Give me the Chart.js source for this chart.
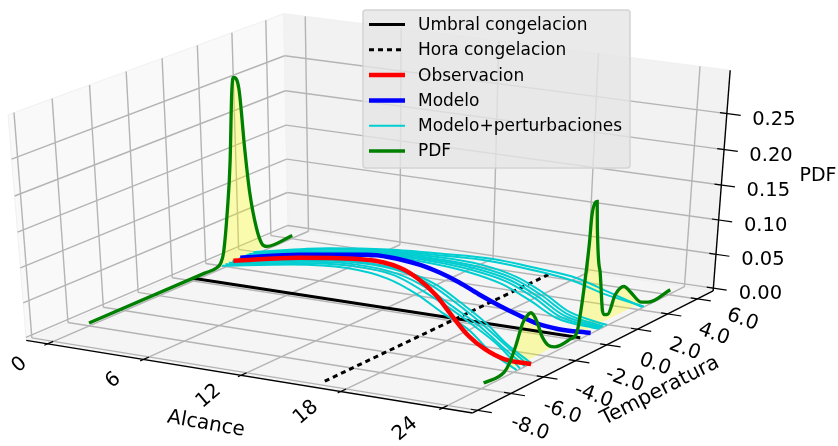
<!DOCTYPE html>
<html>
<head>
<meta charset="utf-8">
<title>Alcance / Temperatura / PDF</title>
<script src="https://cdn.jsdelivr.net/npm/chart.js@4"></script>
<style>
    body { margin: 0; background: #fff; }
    canvas { display: block; }
</style>
</head>
<body>
<canvas id="chart" width="838" height="446"></canvas>
<script>
// tick values and labels
const alcanceTicks = [0, 6, 12, 18, 24];
const tempTicks = [-8, -6, -4, -2, 0, 2, 4, 6];
const tempLabels = ['-8.0', '-6.0', '-4.0', '-2.0', '0.0', '2.0', '4.0', '6.0'];
const pdfTicks = [0, 0.05, 0.1, 0.15, 0.2, 0.25];
const pdfLabels = ['0.00', '0.05', '0.10', '0.15', '0.20', '0.25'];

// forecast lines, temperature at each lead time
const obsAlcance = [0, 2.85, 6.31, 8.72, 10.92, 13.34, 16.03, 18.71, 20.8, 22.62, 24.3];
const obsTemp = [2.42, 3.78, 4.64, 4.34, 3.4, 2.04, 0.29, -1.42, -2.51, -3.18, -3.25];
const modelAlcance = [0, 2.54, 5.79, 9.37, 11.18, 13.14, 15.25, 17.27, 19.15, 20.92, 22.3, 24.2];
const modelTemp = [2.84, 4.1, 5.16, 4.96, 4.44, 3.72, 2.81, 2.0, 1.31, 0.72, 0.53, 0.62];

const memberAlcance = [0, 3.18, 6.26, 9.32, 12.35, 15.35, 18.32, 21.25, 24.2];
const memberTemps = [
    [3.64, 5.26, 6.08, 6.47, 6.71, 6.43, 6.0, 5.02, 4.0],
    [3.38, 5.05, 5.93, 6.26, 6.45, 6.17, 5.68, 4.75, 4.1],
    [3.28, 4.83, 5.77, 6.05, 5.93, 5.17, 3.88, 2.4, 1.66],
    [3.08, 4.72, 5.61, 5.85, 5.67, 4.96, 3.67, 2.2, 1.45],
    [2.98, 4.62, 5.45, 5.69, 5.45, 4.74, 3.46, 1.99, 1.35],
    [3.18, 4.51, 5.35, 5.53, 5.24, 4.53, 3.25, 1.78, 1.24],
    [2.76, 4.41, 5.24, 5.32, 4.98, 4.21, 2.94, 1.58, 1.14],
    [2.55, 3.67, 4.29, 4.05, 3.09, 1.62, 0.08, -1.65, -3.16],
    [2.35, 3.57, 4.19, 3.94, 2.88, 1.42, -0.12, -1.75, -3.36],
    [2.15, 3.36, 3.97, 3.64, 2.56, 1.11, -0.33, -1.95, -3.55],
    [1.94, 3.16, 3.76, 3.44, 2.25, 0.91, -0.53, -2.05, -3.84],
    [1.74, 2.95, 3.46, 3.0, 1.84, 0.39, -0.93, -2.65, -4.04]
];

// threshold and freezing hour
const umbralAlcance = [0, 24.15];
const umbralTemp = [0, 0];
const horaAlcance = [16.6, 16.6];
const horaTemp = [-7.88, 5.92];

// the two pdf slices
const pdfStartAlcance = 0;
const pdfStartTemp = [-6, 0.7, 1.4, 1.67, 1.86, 2.16, 2.42, 2.64, 2.78, 3.06, 3.3, 3.52, 3.87, 4.18, 4.47, 6.06];
const pdfStartVal = [0, 0, 0, 0.005, 0.019, 0.077, 0.147, 0.242, 0.262, 0.244, 0.156, 0.091, 0.034, 0.007, 0, 0];
const pdfEndAlcance = 24;
const pdfEndTemp = [-5.85, -4.6, -4.3, -3.92, -3.55, -3.26, -3.06, -2.71, -2.31, -1.8, -1.47, -0.5, -0.07, 0.1, 0.3, 0.47, 0.55, 0.84, 0.93, 1.25, 1.55, 1.7, 1.9, 2.34, 2.9, 3.32, 4.15, 4.6, 6.09];
const pdfEndVal = [0.002, 0.003, 0.012, 0.034, 0.061, 0.069, 0.07, 0.056, 0.028, 0.008, 0.003, 0.003, 0.008, 0.032, 0.078, 0.13, 0.169, 0.184, 0.148, 0.082, 0.021, 0.014, 0.012, 0.036, 0.042, 0.03, 0.005, 0, 0.002];

// axes box -> normalised cube, same view as the original 3d plot (elev 30, azim -60)
const tx = a => 0.05 + a * 0.885 / 24;
const ty = t => 0.02 + (t + 8) * 0.065;
const tz = p => 0.0136 + p * 3.19;

function cube(x, y, z) {
    const dx = x - 0.5, dy = y - 0.5, dz = z - 0.5;
    const u = 0.866 * dx + 0.5 * dy;
    const v = -0.25 * dx + 0.433 * dy + 0.866 * dz;
    const n = 0.433 * dx - 0.75 * dy + 0.5 * dz;
    return { x: 375 + 5153 * u / (10 - n), y: 206.5 - 2575 * v / (10 - n) };
}
const project = (a, t, p) => cube(tx(a), ty(t), tz(p));

const curve = (alc, temp) => alc.map((a, i) => project(a, temp[i], 0));
const slice = (a, temp, val) => temp.map((t, i) => project(a, t, val[i]));
const shade = (a, temp, val, lo, hi) => temp
    .map((t, i) => [t, val[i]])
    .filter(p => p[0] >= lo && p[0] <= hi)
    .map(p => project(a, p[0], p[1]));

const datasets = [
    { label: 'Umbral congelacion', data: curve(umbralAlcance, umbralTemp), borderColor: '#000', borderWidth: 3, order: 5 },
    { label: 'Hora congelacion', data: curve(horaAlcance, horaTemp), borderColor: '#000', borderWidth: 3, borderDash: [5, 4], order: 4 },
    { label: 'Observacion', data: curve(obsAlcance, obsTemp), borderColor: '#ff0000', borderWidth: 4.5, cubicInterpolationMode: 'monotone', order: 1 },
    { label: 'Modelo', data: curve(modelAlcance, modelTemp), borderColor: '#0000ff', borderWidth: 4.5, cubicInterpolationMode: 'monotone', order: 2 }
];
memberTemps.forEach((temps, i) => {
    datasets.push({
        label: i === 0 ? 'Modelo+perturbaciones' : '',
        data: curve(memberAlcance, temps),
        borderColor: '#00ced1',
        borderWidth: 2,
        cubicInterpolationMode: 'monotone',
        order: 3
    });
});
datasets.push({ label: 'PDF', data: slice(pdfStartAlcance, pdfStartTemp, pdfStartVal), borderColor: '#008000', borderWidth: 3.3, cubicInterpolationMode: 'monotone', order: 0 });
datasets.push({ label: '', data: slice(pdfEndAlcance, pdfEndTemp, pdfEndVal), borderColor: '#008000', borderWidth: 3.3, cubicInterpolationMode: 'monotone', order: 0 });
datasets.push({ label: '', data: shade(pdfStartAlcance, pdfStartTemp, pdfStartVal, 1.3, 4.5), borderWidth: 0, backgroundColor: 'rgba(255,255,0,0.3)', fill: 'shape', order: 6 });
datasets.push({ label: '', data: shade(pdfEndAlcance, pdfEndTemp, pdfEndVal, -4.65, 4.2), borderWidth: 0, backgroundColor: 'rgba(255,255,0,0.3)', fill: 'shape', order: 6 });

const FONT = '"DejaVu Sans"';

const box3d = {
    id: 'box3d',
    beforeDatasetsDraw(chart) {
        const { ctx, scales } = chart;
        const sx = p => scales.x.getPixelForValue(p.x);
        const sy = p => scales.y.getPixelForValue(p.y);

        const pane = (pts, color) => {
            ctx.beginPath();
            pts.forEach((p, i) => {
                const q = cube(p[0], p[1], p[2]);
                if (i === 0) ctx.moveTo(sx(q), sy(q)); else ctx.lineTo(sx(q), sy(q));
            });
            ctx.closePath();
            ctx.fillStyle = color;
            ctx.fill();
            ctx.strokeStyle = '#f0f0f0';
            ctx.lineWidth = 1;
            ctx.stroke();
        };
        const seg = (a, b, color, width) => {
            ctx.beginPath();
            ctx.moveTo(sx(a), sy(a));
            ctx.lineTo(sx(b), sy(b));
            ctx.strokeStyle = color;
            ctx.lineWidth = width;
            ctx.stroke();
        };

        ctx.save();
        pane([[0, 0, 0], [0, 1, 0], [0, 1, 1], [0, 0, 1]], '#f9f9f9');
        pane([[0, 1, 0], [1, 1, 0], [1, 1, 1], [0, 1, 1]], '#f2f2f2');
        pane([[0, 0, 0], [1, 0, 0], [1, 1, 0], [0, 1, 0]], '#f5f5f5');

        const grid = '#b4b4b4';
        alcanceTicks.forEach(a => {
            seg(cube(tx(a), 0, 0), cube(tx(a), 1, 0), grid, 1.4);
            seg(cube(tx(a), 1, 0), cube(tx(a), 1, 1), grid, 1.4);
        });
        tempTicks.forEach(t => {
            seg(cube(1, ty(t), 0), cube(0, ty(t), 0), grid, 1.4);
            seg(cube(0, ty(t), 0), cube(0, ty(t), 1), grid, 1.4);
        });
        pdfTicks.forEach(p => {
            seg(cube(0, 0, tz(p)), cube(0, 1, tz(p)), grid, 1.4);
            seg(cube(0, 1, tz(p)), cube(1, 1, tz(p)), grid, 1.4);
        });

        // axis lines and tick marks
        seg(cube(0, 0, 0), cube(1, 0, 0), '#000', 1.4);
        seg(cube(1, 0, 0), cube(1, 1, 0), '#000', 1.4);
        seg(cube(1, 1, 0), cube(1, 1, 1), '#000', 1.4);
        alcanceTicks.forEach(a => seg(cube(tx(a), -0.012, 0), cube(tx(a), 0.02, 0), '#000', 1.2));
        tempTicks.forEach(t => seg(cube(0.985, ty(t), 0), cube(1.03, ty(t), 0), '#000', 1.2));
        pdfTicks.forEach(p => seg(cube(0.985, 1, tz(p)), cube(1.03, 1, tz(p)), '#000', 1.2));
        ctx.restore();
    },
    afterDatasetsDraw(chart) {
        const { ctx, scales } = chart;
        const sx = p => scales.x.getPixelForValue(p.x);
        const sy = p => scales.y.getPixelForValue(p.y);

        const label = (text, x, y, angle, size) => {
            ctx.save();
            ctx.translate(x, y);
            ctx.rotate(angle * Math.PI / 180);
            ctx.font = size + 'px ' + FONT;
            ctx.fillStyle = '#000';
            ctx.textAlign = 'center';
            ctx.textBaseline = 'middle';
            ctx.fillText(text, 0, 0);
            ctx.restore();
        };

        alcanceTicks.forEach((a, i) => {
            const q = cube(tx(a), 0, 0);
            label(String(a), sx(q) - 28 - i * 2.3, sy(q) + 21, -40, 20);
        });
        tempTicks.forEach((t, i) => {
            const q = cube(1, ty(t), 0);
            label(tempLabels[i], sx(q) + 52 - i, sy(q) + 18 + i * 0.4, 20, 20);
        });
        pdfTicks.forEach((p, i) => {
            const q = cube(1, 1, tz(p));
            label(pdfLabels[i], sx(q) + 47, sy(q) + 6, 0, 19.5);
        });
        label('Alcance', 206, 424, 10, 20);
        label('Temperatura', 660, 391, -27, 20.5);
        label('PDF', 818, 176, 0, 19);

        // legend box goes over the data, grid still shows through it
        ctx.save();
        ctx.beginPath();
        ctx.roundRect(363, 10, 267, 158, 3);
        ctx.fillStyle = 'rgba(229,229,229,0.8)';
        ctx.fill();
        ctx.strokeStyle = '#d4d4d4';
        ctx.lineWidth = 1.5;
        ctx.stroke();
        const items = chart.data.datasets.filter(d => d.label);
        items.forEach((d, i) => {
            const y = 24.5 + i * 25.3;
            ctx.beginPath();
            ctx.setLineDash(d.borderDash || []);
            ctx.moveTo(369, y);
            ctx.lineTo(405, y);
            ctx.strokeStyle = d.borderColor;
            ctx.lineWidth = d.borderWidth;
            ctx.stroke();
            ctx.setLineDash([]);
            ctx.font = '17px ' + FONT;
            ctx.fillStyle = '#000';
            ctx.textAlign = 'left';
            ctx.textBaseline = 'middle';
            ctx.fillText(d.label, 418, y + 1);
        });
        ctx.restore();
    }
};

new Chart(document.getElementById('chart'), {
    type: 'scatter',
    data: { datasets: datasets.map(d => Object.assign({ showLine: true, pointRadius: 0, fill: false }, d)) },
    options: {
        responsive: false,
        animation: false,
        layout: { padding: 0 },
        plugins: { legend: { display: false }, tooltip: { enabled: false } },
        scales: {
            x: { type: 'linear', min: 0, max: 838, display: false },
            y: { type: 'linear', min: 0, max: 446, reverse: true, display: false }
        }
    },
    plugins: [box3d]
});
</script>
</body>
</html>
